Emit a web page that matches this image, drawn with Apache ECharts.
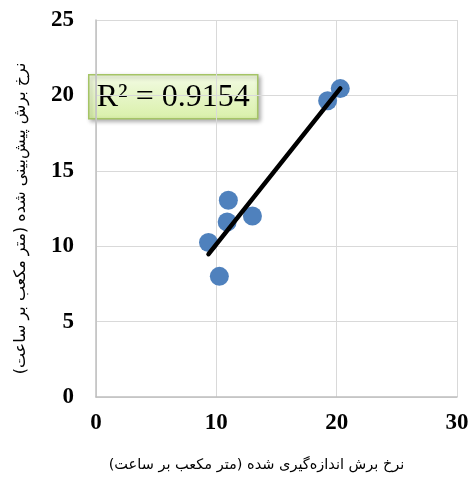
<!DOCTYPE html>
<html>
<head>
<meta charset="utf-8">
<script src="https://cdn.jsdelivr.net/npm/echarts@6/dist/echarts.min.js"></script>
<style>html,body{margin:0;padding:0;background:#fff}#c{width:472px;height:486px}</style>
</head>
<body>
<div id="c"></div>
<script>
// Data
var measured  = [9.35, 10.25, 10.9, 11.0, 13.0, 19.25, 20.3];
var predicted = [10.25, 8.0, 11.6, 13.05, 12.0, 19.65, 20.45];
var xTicks = [0, 10, 20, 30];
var yTicks = [0, 5, 10, 15, 20, 25];
var r2Label = 'R² = 0.9154';
var xTitle = 'نرخ برش اندازه‌گیری شده (متر مکعب بر ساعت)';
var yTitle = 'نرخ برش پیش‌بینی شده (متر مکعب بر ساعت)';

// least-squares trend line over the data range
var n = measured.length, mx = 0, my = 0;
for (var i = 0; i < n; i++) { mx += measured[i]; my += predicted[i]; }
mx /= n; my /= n;
var sxy = 0, sxx = 0;
for (var i = 0; i < n; i++) { sxy += (measured[i]-mx)*(predicted[i]-my); sxx += (measured[i]-mx)*(measured[i]-mx); }
var slope = sxy / sxx, icpt = my - slope * mx;
var xmin = Math.min.apply(null, measured), xmax = Math.max.apply(null, measured);
var trend = [[xmin, icpt + slope*xmin], [xmax, icpt + slope*xmax]];

var pts = measured.map(function (x, i) { return [x, predicted[i]]; });
var RLM = '\u200F';

var chart = echarts.init(document.getElementById('c'), null, {renderer: 'canvas'});
chart.setOption({
  animation: false,
  backgroundColor: '#ffffff',
  grid: {left: 96, right: 15, top: 20, bottom: 89},
  xAxis: {
    type: 'value', min: xTicks[0], max: xTicks[xTicks.length-1], interval: 10,
    axisLine: {show: true, lineStyle: {color: '#bfbfbf', width: 1.5}},
    axisTick: {show: false},
    splitLine: {show: true, lineStyle: {color: '#d9d9d9', width: 1}},
    axisLabel: {margin: 15, color: '#000', fontFamily: 'Liberation Serif', fontWeight: 'bold', fontSize: 23},
    name: RLM + xTitle + RLM, nameLocation: 'middle', nameGap: 61,
    nameTextStyle: {color: '#000', fontFamily: 'DejaVu Sans', fontSize: 14.5, padding: [0, 40, 0, 0]}
  },
  yAxis: {
    type: 'value', min: yTicks[0], max: yTicks[yTicks.length-1], interval: 5,
    axisLine: {show: true, lineStyle: {color: '#bfbfbf', width: 1.5}},
    axisTick: {show: false},
    splitLine: {show: true, lineStyle: {color: '#d9d9d9', width: 1}},
    axisLabel: {margin: 22, color: '#000', fontFamily: 'Liberation Serif', fontWeight: 'bold', fontSize: 23},
    name: RLM + yTitle + RLM, nameLocation: 'middle', nameGap: 67,
    nameTextStyle: {color: '#000', fontFamily: 'DejaVu Sans', fontSize: 16, padding: [0, 20, 0, 0]}
  },
  series: [
    {type: 'scatter', data: pts, symbolSize: 19, itemStyle: {color: '#4f81bd', opacity: 1}, z: 2},
    {type: 'line', data: trend, showSymbol: false, symbol: 'none', lineStyle: {color: '#000', width: 4.5, cap: 'round'}, z: 3}
  ],
  graphic: [
    {type: 'group', left: 88, top: 74, z: 10, children: [
      {type: 'rect', shape: {x: 0, y: 0, width: 169, height: 44},
       style: {fill: new echarts.graphic.LinearGradient(0, 0, 0, 1, [{offset: 0, color: '#f3fbe4'}, {offset: 1, color: '#d9f0a9'}]),
               stroke: '#a5c466', lineWidth: 1.5, shadowBlur: 4, shadowOffsetX: 2, shadowOffsetY: 2, shadowColor: 'rgba(0,0,0,0.3)'}},
      {type: 'text', x: 84.5, y: 23, style: {text: r2Label, fill: '#000', font: '32px "Liberation Serif"', align: 'center', verticalAlign: 'middle'}}
    ]}
  ]
});
</script>
</body>
</html>
